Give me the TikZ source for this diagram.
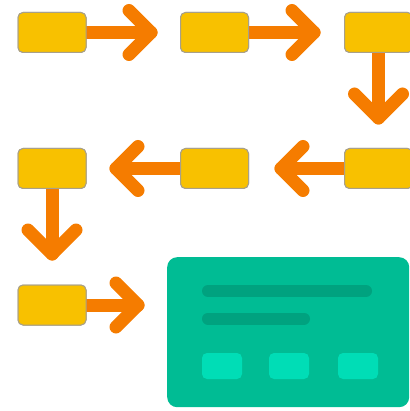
\documentclass[tikz,border=0pt]{standalone}
\usetikzlibrary{calc}
\definecolor{boxyellow}{HTML}{F8C100}
\definecolor{boxedge}{HTML}{A8A08A}
\definecolor{arroworange}{HTML}{F57C00}
\definecolor{cardgreen}{HTML}{00BC94}
\definecolor{bardark}{HTML}{00A27F}
\definecolor{btnlight}{HTML}{00DDB6}
\tikzset{
  stepbox/.style={draw=boxedge, line width=1pt, fill=boxyellow, rounded corners=5pt,
    minimum width=68pt, minimum height=40pt, inner sep=0pt},
  arr/.style={draw=arroworange, line width=13pt, line cap=round, line join=round},
  card/.style={fill=cardgreen, rounded corners=10pt, minimum width=242pt, minimum height=150pt, inner sep=0pt},
  bar/.style={draw=bardark, line width=12pt, line cap=round},
  btn/.style={fill=btnlight, rounded corners=5pt, minimum width=40pt, minimum height=26pt, inner sep=0pt},
}
\newcommand{\chevR}[1]{\draw[arr] ($(#1)+(-22,-22)$) -- (#1) -- ($(#1)+(-22,22)$);}
\newcommand{\chevL}[1]{\draw[arr] ($(#1)+(22,-22)$) -- (#1) -- ($(#1)+(22,22)$);}
\newcommand{\chevD}[1]{\draw[arr] ($(#1)+(-24,-24)$) -- (#1) -- ($(#1)+(24,-24)$);}
\begin{document}
\begin{tikzpicture}[x=1pt,y=-1pt]
\useasboundingbox (0,0) rectangle (409,411);
% row 1
\node[stepbox] (b1) at (52,32.5) {};
\node[stepbox] (b2) at (214.5,32.5) {};
\node[stepbox] (b3) at (378.5,32.5) {};
% row 2
\node[stepbox] (b4) at (378.5,168.5) {};
\node[stepbox] (b5) at (214.5,168.5) {};
\node[stepbox] (b6) at (52,168.5) {};
% row 3
\node[stepbox] (b7) at (52,305) {};
% card
\node[card, anchor=north west] (card) at (167,257) {};
\coordinate (t1) at (151,32.5);
\coordinate (t2) at (314,32.5);
\coordinate (t3) at (378.5,118);
\coordinate (t4) at (281,168.5);
\coordinate (t5) at (116,168.5);
\coordinate (t6) at (52,254);
\coordinate (t7) at (138,305);
\draw[arr] (b1.east) -- (t1); \chevR{t1}
\draw[arr] (b2.east) -- (t2); \chevR{t2}
\draw[arr] (b3.south) -- (t3); \chevD{t3}
\draw[arr] (b4.west) -- (t4); \chevL{t4}
\draw[arr] (b5.west) -- (t5); \chevL{t5}
\draw[arr] (b6.south) -- (t6); \chevD{t6}
\draw[arr] (b7.east) -- (t7); \chevR{t7}
% redraw boxes above shafts
\foreach \b in {b1,b2,b3,b4,b5,b6,b7} {\node[stepbox] at (\b) {};}
% card content
\coordinate (l1a) at (208,291); \coordinate (l1b) at (366,291);
\coordinate (l2a) at (208,318.5); \coordinate (l2b) at (304,318.5);
\draw[bar] (l1a) -- (l1b);
\draw[bar] (l2a) -- (l2b);
\node[btn] (k1) at (222,366) {};
\node[btn] (k2) at (289,366) {};
\node[btn] (k3) at (358,366) {};
\end{tikzpicture}
\end{document}
